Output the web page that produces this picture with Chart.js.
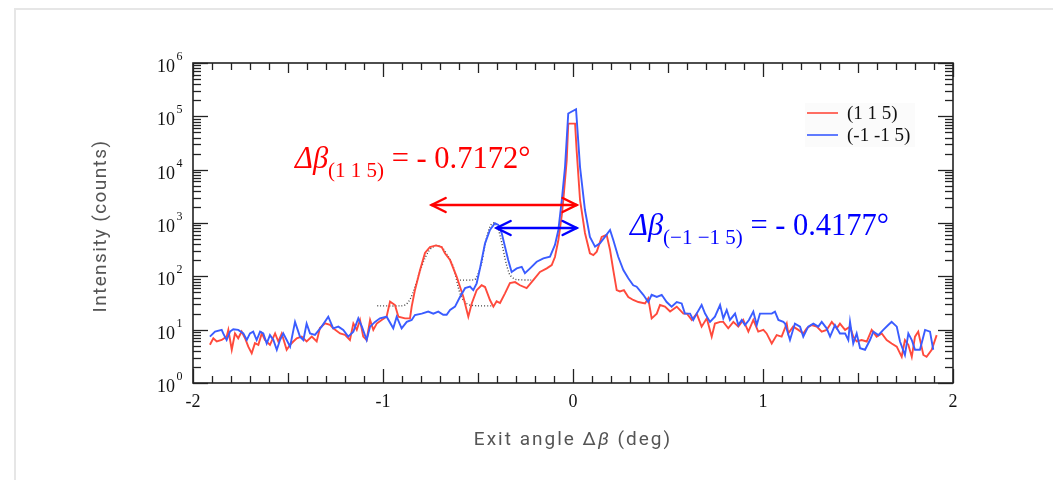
<!DOCTYPE html>
<html><head><meta charset="utf-8">
<script src="https://cdn.jsdelivr.net/npm/chart.js@4/dist/chart.umd.min.js"></script>
<style>
html,body{margin:0;padding:0;background:#fff;overflow:hidden}
#card{position:absolute;left:14px;top:8px;width:1200px;height:600px;border:2px solid #e6e6e6;box-sizing:border-box}
#wrap{position:absolute;left:0;top:0;width:1053px;height:480px}
</style></head><body>
<div id="card"></div>
<div id="wrap"><canvas id="c" width="1053" height="480"></canvas></div>
<script>
// ---- data ----
const redX = [-1.911,-1.893,-1.875,-1.849,-1.823,-1.814,-1.796,-1.779,-1.762,-1.744,-1.726,-1.709,-1.691,-1.674,-1.656,-1.638,-1.621,-1.595,-1.568,-1.551,-1.533,-1.507,-1.489,-1.472,-1.454,-1.428,-1.402,-1.375,-1.349,-1.332,-1.305,-1.279,-1.262,-1.226,-1.2,-1.174,-1.156,-1.138,-1.121,-1.104,-1.086,-1.068,-1.051,-1.033,-1.007,-0.981,-0.963,-0.937,-0.919,-0.884,-0.858,-0.849,-0.832,-0.805,-0.779,-0.753,-0.721,-0.691,-0.674,-0.647,-0.612,-0.577,-0.551,-0.533,-0.507,-0.481,-0.463,-0.437,-0.419,-0.402,-0.384,-0.358,-0.332,-0.305,-0.279,-0.244,-0.209,-0.174,-0.138,-0.112,-0.095,-0.077,-0.059,-0.051,-0.033,-0.025,0.011,0.019,0.037,0.063,0.089,0.107,0.125,0.151,0.177,0.195,0.212,0.23,0.247,0.268,0.291,0.317,0.344,0.379,0.396,0.414,0.441,0.458,0.484,0.511,0.546,0.581,0.6,0.625,0.651,0.677,0.704,0.73,0.747,0.774,0.791,0.817,0.844,0.87,0.896,0.923,0.949,0.975,1.002,1.019,1.046,1.072,1.098,1.125,1.133,1.159,1.186,1.212,1.23,1.256,1.283,1.309,1.335,1.362,1.388,1.405,1.432,1.458,1.475,1.493,1.519,1.546,1.572,1.598,1.625,1.651,1.677,1.704,1.73,1.747,1.765,1.783,1.8,1.817,1.844,1.861,1.888,1.914];
const redY = [5.2,6.9,6.0,6.4,7.4,9.9,4.2,8.5,6.9,9.2,6.9,4.8,3.6,5.6,5.2,8.5,6.4,5.2,8.5,6.0,8.5,4.2,5.2,6.0,6.9,7.4,6.0,7.4,6.0,10.7,13.1,12.3,10.6,8.5,8.0,6.4,13.1,9.9,15.2,7.4,6.4,15.2,9.9,13,15.2,17.5,33.5,29,17.5,16.3,16.3,27,55,131,274,355,380,355,270,202,98,41,17.5,31,55,68,63,36,27,34,31.6,48,75,78,68,60,85,121,141,163,230,480,1400,2700,15000,73000,73000,23400,2700,650,270,250,290,550,600,312,131,55,52,55,41,36,33,31,38.6,16.3,20,29,27,22,27,20,20,15.2,20,11.4,16.3,7.4,13,14,14,10.6,14,11.4,15.2,9.2,15.2,9.2,9.9,8.5,5.5,7.9,7.4,13,8.5,11.4,9.9,8.5,10.6,12.2,11.4,9.2,9.9,14,10.6,13,9.9,11.4,7.4,6.0,6.4,6.0,9.9,7.4,8.5,6.4,5.5,4.8,3.1,6.4,5.2,3.1,7.4,9.2,3.35,3.1,4.2,7.9];

const blueX = [-1.911,-1.884,-1.849,-1.841,-1.823,-1.805,-1.788,-1.762,-1.735,-1.717,-1.7,-1.683,-1.665,-1.647,-1.63,-1.612,-1.595,-1.577,-1.559,-1.542,-1.525,-1.507,-1.489,-1.463,-1.437,-1.419,-1.402,-1.384,-1.358,-1.323,-1.288,-1.262,-1.235,-1.209,-1.183,-1.156,-1.13,-1.111,-1.086,-1.068,-1.042,-1.016,-0.981,-0.946,-0.928,-0.902,-0.875,-0.849,-0.832,-0.796,-0.762,-0.735,-0.709,-0.683,-0.665,-0.647,-0.621,-0.595,-0.568,-0.542,-0.525,-0.507,-0.489,-0.463,-0.437,-0.411,-0.393,-0.375,-0.358,-0.341,-0.323,-0.296,-0.27,-0.253,-0.226,-0.191,-0.156,-0.121,-0.095,-0.077,-0.059,-0.042,-0.025,0.016,0.037,0.063,0.089,0.116,0.142,0.168,0.195,0.212,0.238,0.265,0.291,0.317,0.335,0.37,0.396,0.414,0.441,0.467,0.493,0.519,0.546,0.572,0.589,0.616,0.633,0.651,0.677,0.695,0.721,0.747,0.774,0.791,0.809,0.826,0.853,0.87,0.888,0.905,0.926,0.949,0.967,0.984,1.011,1.046,1.063,1.081,1.107,1.116,1.142,1.168,1.195,1.212,1.238,1.265,1.291,1.309,1.335,1.353,1.379,1.405,1.432,1.449,1.458,1.475,1.493,1.511,1.537,1.563,1.581,1.607,1.633,1.659,1.677,1.704,1.721,1.747,1.765,1.783,1.8,1.826,1.853,1.879,1.896];
const blueY = [7.4,9.2,9.9,8.5,6.4,9.2,10.2,9.9,8.5,6.4,8.5,9.2,6.4,9.2,8.5,5.5,7.9,6.4,4.2,6.4,8.5,6.4,4.8,14,7.4,6.4,13,8.5,8.0,11.4,17.5,10.6,11.4,9.9,7.4,9.2,16.3,11.4,6.4,11.4,14,16.3,17.5,10.6,17.5,10.6,14,15.2,18.8,20,21.8,20,21.8,19,19,23.4,27,41,60,64,55,74,143,415,740,990,920,640,360,203,121,141,150,114,141,188,218,233,387,740,2700,11200,113000,136000,11200,1750,550,360,415,550,740,480,233,131,92,68,64,45,33,45,41,45,33,27,33,31,20,20,15.2,20,29,20,14,17.5,29,16.3,23.4,15.2,20,12.2,15.2,12.2,15.2,21.8,12.2,20,20,20,21.8,15.2,14,13,6.4,13,11.4,7.4,11.4,13,11.4,14,10.6,7.4,12.2,8.5,8.5,6.4,14,5.5,8.5,4.5,4.2,6.4,9.2,7.9,9.9,12.2,14,11.4,6,3.35,8.5,6.4,4.2,4.2,9.9,9.2,4.2];

const redFitX = [-1.03,-0.90,-0.88,-0.87,-0.86,-0.85,-0.84,-0.83,-0.815,-0.80,-0.78,-0.76,-0.74,-0.72,-0.70,-0.68,-0.66,-0.645,-0.63,-0.617,-0.604,-0.59,-0.577,-0.56,-0.542,-0.50,-0.42];
const redFitY = [28,28,29.5,32,36,42,52,66,98,140,215,295,350,378,368,320,245,200,150,100,62,43,36,31,29,28,28];
const blueFitX = [-0.61,-0.52,-0.51,-0.498,-0.481,-0.47,-0.46,-0.45,-0.44,-0.43,-0.42,-0.41,-0.40,-0.39,-0.38,-0.37,-0.36,-0.35,-0.34,-0.332,-0.314,-0.30,-0.22];
const blueFitY = [85,86,92,114,176,290,440,620,800,940,1000,975,870,700,510,350,235,165,125,106,92,87,85];

const seriesNames = ['(1 1 5)', '(-1 -1 5)'];
const xTickValues = [-2,-1,0,1,2];
const xTickLabels = ['-2','-1','0','1','2'];
const yTickExps = [0,1,2,3,4,5,6];
const xTitle = ['Exit angle \u0394', '\u03b2', ' (deg)'];
const yTitle = 'Intensity (counts)';

// annotations (data coordinates)
const redArrow = {x1:-0.744, x2:0.019, y:2175};
const blueArrow = {x1:-0.402, x2:0.019, y:806};
const redLabel = {x:-1.463, y:10750, sub:'(1 1 5)', val:' = - 0.7172\u00b0'};
const blueLabel = {x:0.3, y:596, sub:'(\u22121 \u22121 5)', val:' = - 0.4177\u00b0'};

const RED = '#ff4a3c', BLUE = '#3a5cff';
const SERIF = '"Liberation Serif", "Times New Roman", serif';
const SANS = 'Roboto, "Open Sans", sans-serif';

function pts(xs, ys){ return xs.map((x,i)=>({x:x, y:ys[i]})); }

const decor = {
  id:'decor',
  afterDraw(chart){
    const {ctx, chartArea:a, scales:{x, y}} = chart;
    ctx.save();
    const seg = (x1,y1,x2,y2)=>{ctx.beginPath();ctx.moveTo(x1,y1);ctx.lineTo(x2,y2);ctx.stroke();};
    // frame
    ctx.strokeStyle = '#222'; ctx.lineWidth = 1.6;
    ctx.strokeRect(a.left, a.top, a.right-a.left, a.bottom-a.top);
    // x ticks
    ctx.lineWidth = 1.3;
    for (let i=-20;i<=20;i++){
      const px = Math.round(x.getPixelForValue(i/10))+0.5;
      const len = i%10===0 ? 14 : (i%5===0 ? 10 : 7);
      seg(px, a.bottom, px, a.bottom-len);
      seg(px, a.top, px, a.top+len);
    }
    // y ticks
    for (let e=0;e<=6;e++){
      const py = Math.round(y.getPixelForValue(Math.pow(10,e)))+0.5;
      seg(a.left, py, a.left+15, py); seg(a.right, py, a.right-15, py);
      if (e<6) for (let m=2;m<=9;m++){
        const q = Math.round(y.getPixelForValue(m*Math.pow(10,e)))+0.5;
        seg(a.left, q, a.left+8, q); seg(a.right, q, a.right-8, q);
      }
    }
    // y tick labels
    ctx.fillStyle = '#111';
    ctx.textBaseline = 'alphabetic';
    yTickExps.forEach(e=>{
      const py = y.getPixelForValue(Math.pow(10,e));
      ctx.font = '18px ' + SERIF; ctx.textAlign = 'left';
      ctx.fillText('10', 157, py + 9);
      ctx.font = '12px ' + SERIF;
      ctx.fillText(String(e), 176.5, py - 3);
    });
    // x tick labels
    ctx.font = '18px ' + SERIF; ctx.textAlign = 'center'; ctx.textBaseline = 'middle';
    xTickValues.forEach((v,i)=>{
      ctx.fillText(xTickLabels[i], x.getPixelForValue(v), a.bottom + 19);
    });
    // axis titles
    ctx.fillStyle = '#555';
    ctx.textBaseline = 'middle';
    try { ctx.letterSpacing = '2px'; } catch(e){}
    const fonts = ['19px '+SANS, 'italic 19px '+SANS, '19px '+SANS];
    let tw = 0; const ws = [];
    xTitle.forEach((t,i)=>{ ctx.font = fonts[i]; const w = ctx.measureText(t).width; ws.push(w); tw += w; });
    let cx = (a.left + a.right)/2 - tw/2;
    ctx.textAlign = 'left';
    xTitle.forEach((t,i)=>{ ctx.font = fonts[i]; ctx.fillText(t, cx, 440); cx += ws[i]; });
    try { ctx.letterSpacing = '1.4px'; } catch(e){}
    ctx.save();
    ctx.translate(101, (a.top + a.bottom)/2 + 3);
    ctx.rotate(-Math.PI/2);
    ctx.font = '19px ' + SANS; ctx.textAlign = 'center';
    ctx.fillText(yTitle, 0, 0);
    ctx.restore();
    try { ctx.letterSpacing = '0px'; } catch(e){}

    // arrows
    const arrow = (ar, col)=>{
      const x1 = x.getPixelForValue(ar.x1), x2 = x.getPixelForValue(ar.x2), py = y.getPixelForValue(ar.y);
      ctx.strokeStyle = col; ctx.lineWidth = 2.5; ctx.lineCap = 'round'; ctx.lineJoin='miter';
      seg(x1, py, x2, py);
      ctx.beginPath(); ctx.moveTo(x1+14, py-7); ctx.lineTo(x1, py); ctx.lineTo(x1+14, py+7); ctx.stroke();
      ctx.beginPath(); ctx.moveTo(x2-14, py-7); ctx.lineTo(x2, py); ctx.lineTo(x2-14, py+7); ctx.stroke();
    };
    arrow(redArrow, '#ff0000');
    arrow(blueArrow, '#0000ff');

    // labels
    const label = (lb, col)=>{
      let px = x.getPixelForValue(lb.x); const py = y.getPixelForValue(lb.y);
      ctx.fillStyle = col; ctx.textAlign = 'left'; ctx.textBaseline = 'alphabetic';
      ctx.font = 'italic 30.5px ' + SERIF; ctx.fillText('\u0394\u03b2', px, py);
      px += ctx.measureText('\u0394\u03b2').width;
      ctx.font = '21px ' + SERIF; ctx.fillText(lb.sub, px, py + 9);
      px += ctx.measureText(lb.sub).width;
      ctx.font = '30.5px ' + SERIF; ctx.fillText(lb.val, px, py);
    };
    label(redLabel, '#ff0000');
    label(blueLabel, '#0000ff');

    // legend
    const lx = a.right - 146, ly = a.top + 50;
    ctx.fillStyle = '#fbfbfb'; ctx.fillRect(lx-2, ly-10, 110, 44);
    ctx.lineWidth = 1.6; ctx.lineCap='butt';
    [RED, BLUE].forEach((c,i)=>{
      const yy = ly + i*22;
      ctx.strokeStyle = c; seg(lx, yy, lx+31, yy);
      ctx.fillStyle = '#111'; ctx.font = '19px ' + SERIF; ctx.textBaseline = 'middle';
      ctx.fillText(seriesNames[i], lx+40, yy+1);
    });
    ctx.restore();
  }
};

new Chart(document.getElementById('c'), {
  type:'line',
  data:{ datasets:[
    {label:seriesNames[1], data:pts(blueX, blueY), borderColor:BLUE, borderWidth:1.9, pointRadius:0, tension:0},
    {label:seriesNames[0], data:pts(redX, redY), borderColor:RED, borderWidth:1.9, pointRadius:0, tension:0},
    {label:'fit1', data:pts(redFitX, redFitY), borderColor:'#444', borderWidth:1.4, borderDash:[1,2], pointRadius:0, tension:0.3},
    {label:'fit2', data:pts(blueFitX, blueFitY), borderColor:'#444', borderWidth:1.4, borderDash:[1,2], pointRadius:0, tension:0.3}
  ]},
  options:{
    responsive:false, devicePixelRatio:1, animation:false,
    parsing:true,
    layout:{padding:{left:193, right:100, top:63, bottom:97}},
    plugins:{legend:{display:false}, tooltip:{enabled:false}},
    scales:{
      x:{type:'linear', min:-2, max:2, display:false},
      y:{type:'logarithmic', min:1, max:1e6, display:false}
    }
  },
  plugins:[decor]
});
</script>
</body></html>
